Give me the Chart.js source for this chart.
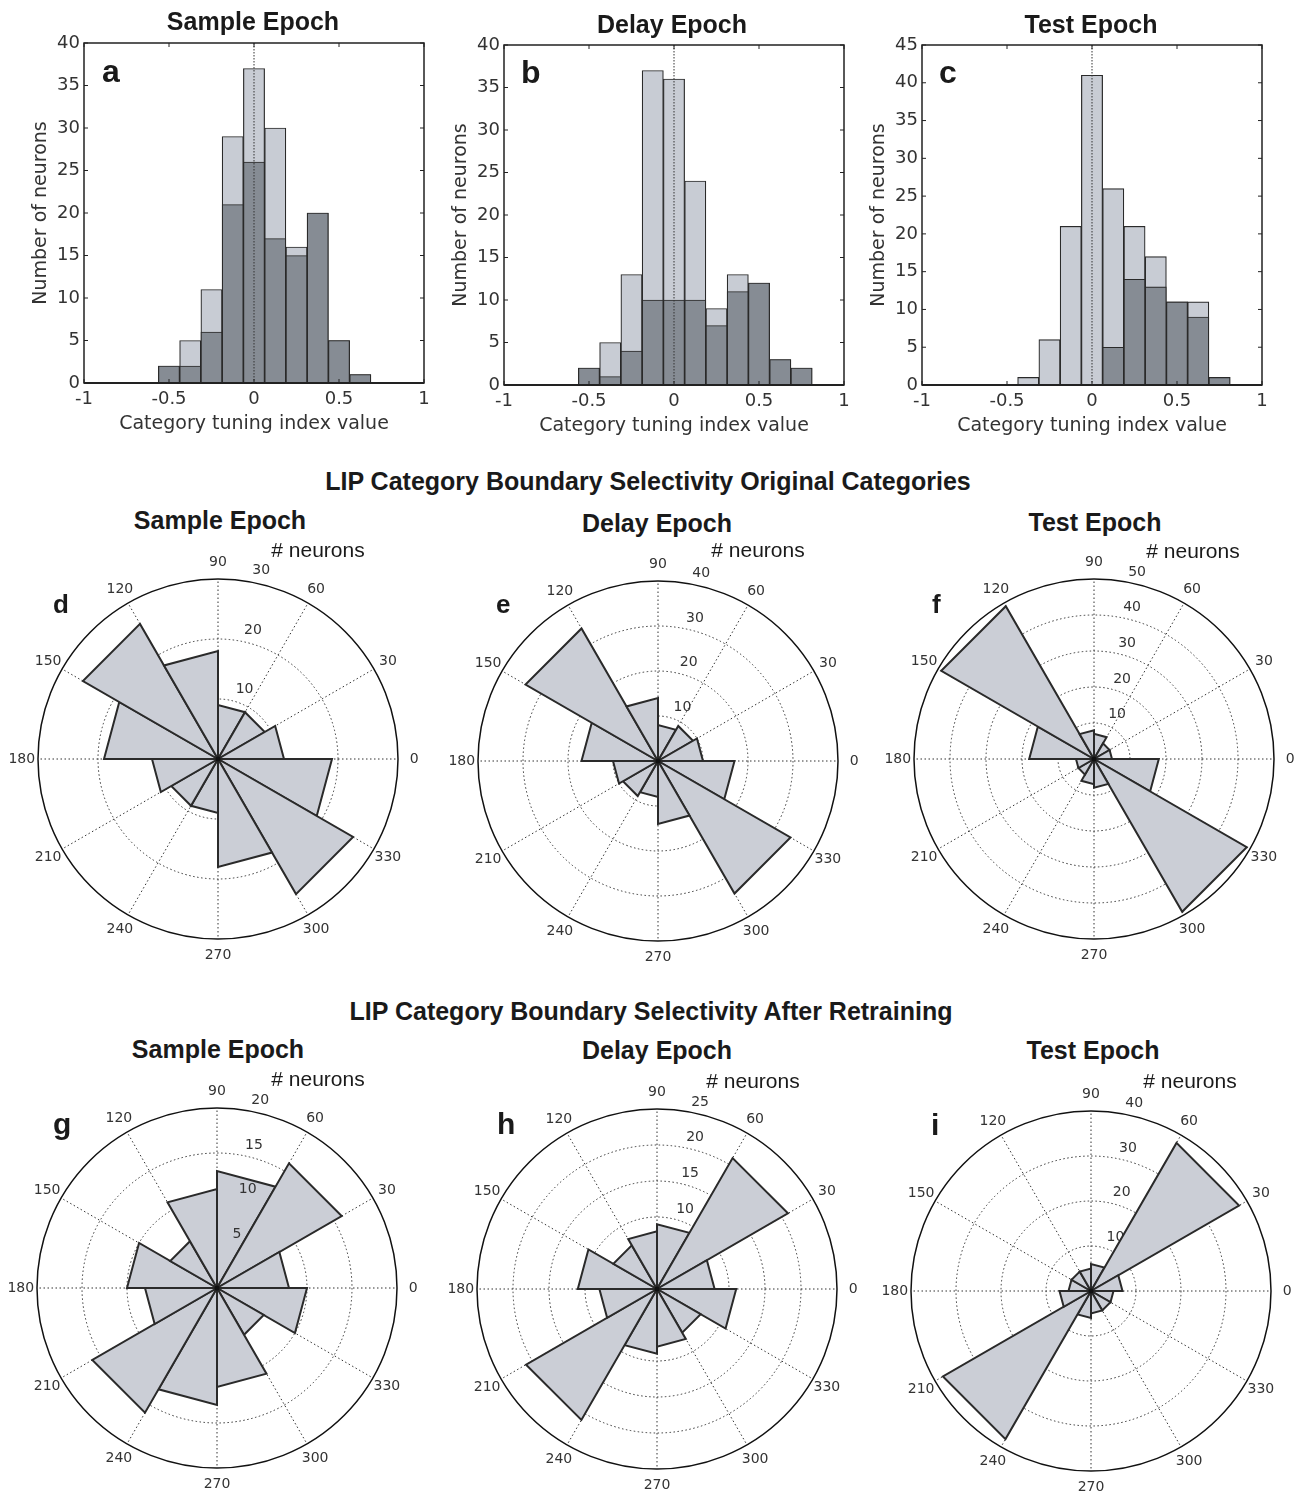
<!DOCTYPE html>
<html>
<head>
<meta charset="utf-8">
<script src="https://cdn.jsdelivr.net/npm/chart.js@4.4.1/dist/chart.umd.min.js"></script>
<style>
  body { margin: 0; background: #fff; }
  #page { position: relative; width: 1297px; height: 1497px; overflow: hidden; font-family: "Liberation Sans", Arial, Helvetica, sans-serif; color: #1a1a1a; }
  canvas { position: absolute; }
  .t { position: absolute; white-space: nowrap; line-height: 1; transform: translate(-50%, -50%); }
  .title { font-weight: bold; font-size: 25px; }
  .unit { font-size: 21px; }
  .letter { position: absolute; line-height: 1; font-weight: bold; }
</style>
</head>
<body>
<div id="page">
  <canvas id="histA" width="420" height="440" style="left:20px;top:0px"></canvas>
  <canvas id="histB" width="420" height="440" style="left:440px;top:2px"></canvas>
  <canvas id="histC" width="420" height="440" style="left:858px;top:2px"></canvas>

  <canvas id="roseD" width="420" height="420" style="left:8px;top:549px"></canvas>
  <canvas id="roseE" width="420" height="420" style="left:448px;top:551px"></canvas>
  <canvas id="roseF" width="420" height="420" style="left:884px;top:549px"></canvas>
  <canvas id="roseG" width="420" height="420" style="left:7px;top:1078px"></canvas>
  <canvas id="roseH" width="420" height="420" style="left:447px;top:1079px"></canvas>
  <canvas id="roseI" width="420" height="420" style="left:881px;top:1081px"></canvas>

  <div class="t title" style="left:253px;top:21px">Sample Epoch</div>
  <div class="t title" style="left:672px;top:24px">Delay Epoch</div>
  <div class="t title" style="left:1091px;top:24px">Test Epoch</div>

  <div class="t title" style="left:648px;top:481px">LIP Category Boundary Selectivity Original Categories</div>
  <div class="t title" style="left:220px;top:520px">Sample Epoch</div>
  <div class="t title" style="left:657px;top:523px">Delay Epoch</div>
  <div class="t title" style="left:1095px;top:522px">Test Epoch</div>
  <div class="t unit" style="left:318px;top:549px"># neurons</div>
  <div class="t unit" style="left:758px;top:549px"># neurons</div>
  <div class="t unit" style="left:1193px;top:550px"># neurons</div>

  <div class="t title" style="left:651px;top:1011px">LIP Category Boundary Selectivity After Retraining</div>
  <div class="t title" style="left:218px;top:1049px">Sample Epoch</div>
  <div class="t title" style="left:657px;top:1050px">Delay Epoch</div>
  <div class="t title" style="left:1093px;top:1050px">Test Epoch</div>
  <div class="t unit" style="left:318px;top:1078px"># neurons</div>
  <div class="t unit" style="left:753px;top:1080px"># neurons</div>
  <div class="t unit" style="left:1190px;top:1080px"># neurons</div>
</div>

<script>
// histogram bin centres (category tuning index)
const histBins = [-0.5, -0.375, -0.25, -0.125, 0, 0.125, 0.25, 0.375, 0.5, 0.625, 0.75];
// light bars = all neurons, dark bars = significant subset
const sampleAll = [2, 5, 11, 29, 37, 30, 16, 20, 5, 1, 0];
const sampleSel = [2, 2, 6, 21, 26, 17, 15, 20, 5, 1, 0];
const delayAll  = [2, 5, 13, 37, 36, 24, 9, 13, 12, 3, 2];
const delaySel  = [2, 1, 4, 10, 10, 10, 7, 11, 12, 3, 2];
const testAll   = [0, 1, 6, 21, 41, 26, 21, 17, 11, 11, 1];
const testSel   = [0, 0, 0, 0, 0, 5, 14, 13, 11, 9, 1];

// rose bins, 30 deg wide, counter-clockwise from 0
const roseBins = ['0-30', '30-60', '60-90', '90-120', '120-150', '150-180',
                  '180-210', '210-240', '240-270', '270-300', '300-330', '330-360'];
const angleTicks = [0, 30, 60, 90, 120, 150, 180, 210, 240, 270, 300, 330];
const origSample = [11, 9, 9, 18, 26, 19, 11, 9, 9, 18, 26, 19];
const origDelay  = [10, 9, 8, 14, 34, 17, 10, 9, 8, 14, 34, 17];
const origTest   = [5, 5, 7, 8, 49, 18, 5, 5, 7, 8, 49, 18];
const retrSample = [8, 16, 13, 11, 6, 10, 8, 16, 13, 11, 6, 10];
const retrDelay  = [8, 21, 9, 8, 7, 11, 8, 21, 9, 8, 7, 11];
const retrTest   = [7, 38, 6, 5, 5, 5, 7, 38, 6, 5, 5, 5];

const LIGHT = '#c8ccd4';
const DARK = '#868c94';
const EDGE = '#2a2a2a';
const NUMFONT = '"DejaVu Sans", sans-serif';

// box, inward ticks and dotted zero line, matlab style
const histFrame = {
  id: 'histFrame',
  afterDatasetsDraw(chart) {
    const {ctx, chartArea: a, scales: {x, y}} = chart;
    ctx.save();
    const x0 = x.getPixelForValue(0);
    ctx.strokeStyle = '#333';
    ctx.lineWidth = 1;
    ctx.setLineDash([1.5, 1.5]);
    ctx.beginPath();
    ctx.moveTo(x0, a.top);
    ctx.lineTo(x0, a.bottom);
    ctx.stroke();
    ctx.setLineDash([]);

    ctx.strokeStyle = '#222';
    ctx.lineWidth = 1.5;
    ctx.strokeRect(a.left, a.top, a.right - a.left, a.bottom - a.top);
    ctx.lineWidth = 2;
    ctx.beginPath();
    ctx.moveTo(a.left, a.bottom);
    ctx.lineTo(a.right, a.bottom);
    ctx.stroke();

    const t = 4;
    ctx.lineWidth = 1;
    ctx.beginPath();
    x.ticks.forEach(tk => {
      const p = x.getPixelForValue(tk.value);
      ctx.moveTo(p, a.bottom); ctx.lineTo(p, a.bottom - t);
      ctx.moveTo(p, a.top); ctx.lineTo(p, a.top + t);
    });
    y.ticks.forEach(tk => {
      const p = y.getPixelForValue(tk.value);
      ctx.moveTo(a.left, p); ctx.lineTo(a.left + t, p);
      ctx.moveTo(a.right, p); ctx.lineTo(a.right - t, p);
    });
    ctx.stroke();
    ctx.restore();
  }
};

function makeHist(id, all, sel, yMax) {
  const toPts = arr => histBins.map((b, i) => ({x: b, y: arr[i]})).filter(p => p.y > 0);
  new Chart(document.getElementById(id), {
    type: 'bar',
    data: {
      datasets: [
        { data: toPts(sel), backgroundColor: DARK, borderColor: EDGE, borderWidth: 1.2 },
        { data: toPts(all), backgroundColor: LIGHT, borderColor: EDGE, borderWidth: 1.2 }
      ]
    },
    options: {
      responsive: false,
      animation: false,
      grouped: false,
      barPercentage: 1,
      categoryPercentage: 1,
      layout: { padding: { left: 0, top: 43, right: 16, bottom: 0 } },
      plugins: { legend: { display: false }, tooltip: { enabled: false } },
      scales: {
        x: {
          type: 'linear', min: -1, max: 1, offset: false,
          grid: { display: false, drawTicks: false, offset: false },
          border: { display: false },
          ticks: {
            stepSize: 0.5, autoSkip: false, maxRotation: 0, padding: 6, color: '#333',
            font: { family: NUMFONT, size: 18 },
            callback: v => String(v)
          },
          title: { display: true, text: 'Category tuning index value', color: '#333', padding: { bottom: 5 }, font: { family: NUMFONT, size: 19 } },
          afterFit(s) { s.height = 57; }
        },
        y: {
          min: 0, max: yMax,
          grid: { display: false, drawTicks: false },
          border: { display: false },
          ticks: { stepSize: 5, padding: 4, color: '#333', font: { family: NUMFONT, size: 18 } },
          title: { display: true, text: 'Number of neurons', color: '#333', padding: { top: 10 }, font: { family: NUMFONT, size: 19 } },
          afterFit(s) { s.width = 64; }
        }
      }
    },
    plugins: [histFrame]
  });
}

function drawRadial(chart, opts) {
  const r = chart.scales.r;
  const ctx = chart.ctx;
  const a = 82 * Math.PI / 180;
  ctx.save();
  ctx.fillStyle = '#333';
  ctx.font = '14px ' + NUMFONT;
  ctx.textAlign = 'left';
  ctx.textBaseline = 'bottom';
  r.ticks.forEach(tk => {
    if (tk.value <= 0) return;
    const d = r.getDistanceFromCenterForValue(tk.value + opts.step / 20);
    ctx.fillText('  ' + tk.value, r.xCenter + d * Math.cos(a), r.yCenter - d * Math.sin(a));
  });
  ctx.restore();
}

const roseLabels = {
  id: 'roseLabels',
  beforeDatasetsDraw(chart, args, opts) {
    if (!opts.labelsOnTop) drawRadial(chart, opts);
  },
  afterDatasetsDraw(chart, args, opts) {
    if (opts.labelsOnTop) drawRadial(chart, opts);
    const r = chart.scales.r;
    const ctx = chart.ctx;
    ctx.save();
    ctx.strokeStyle = '#111';
    ctx.lineWidth = 1.5;
    ctx.beginPath();
    ctx.arc(r.xCenter, r.yCenter, r.drawingArea, 0, Math.PI * 2);
    ctx.stroke();
    ctx.fillStyle = '#111';
    ctx.beginPath();
    ctx.arc(r.xCenter, r.yCenter, 2.5, 0, Math.PI * 2);
    ctx.fill();
    ctx.fillStyle = '#333';
    ctx.font = '14px ' + NUMFONT;
    ctx.textAlign = 'center';
    ctx.textBaseline = 'middle';
    const d = r.drawingArea * 1.09;
    angleTicks.forEach(deg => {
      const rad = deg * Math.PI / 180;
      ctx.fillText(String(deg), r.xCenter + d * Math.cos(rad), r.yCenter - d * Math.sin(rad));
    });
    ctx.restore();
  }
};

function makeRose(id, counts, rMax, step, labelsOnTop) {
  // chart.js goes clockwise from startAngle, so feed the bins in reverse
  new Chart(document.getElementById(id), {
    type: 'polarArea',
    data: {
      labels: roseBins.slice().reverse(),
      datasets: [{
        data: counts.slice().reverse(),
        backgroundColor: '#cbced6', borderColor: EDGE, borderWidth: 2,
        circular: false, borderJoinStyle: 'miter'
      }]
    },
    options: {
      responsive: false,
      animation: false,
      layout: { padding: 30 },
      plugins: {
        legend: { display: false },
        tooltip: { enabled: false },
        roseLabels: { step: step, labelsOnTop: labelsOnTop }
      },
      scales: {
        r: {
          min: 0, max: rMax, startAngle: 90,
          ticks: { display: false, stepSize: step },
          grid: {
            circular: true, lineWidth: 1, borderDash: [1.5, 2.5],
            color: c => (c.tick && c.tick.value >= rMax) ? 'rgba(0,0,0,0)' : '#333'
          },
          border: { dash: [1.5, 2.5] },
          angleLines: { display: true, color: '#333', lineWidth: 1, borderDash: [1.5, 2.5] },
          pointLabels: { display: false }
        }
      }
    },
    plugins: [roseLabels]
  });
}

makeHist('histA', sampleAll, sampleSel, 40);
makeHist('histB', delayAll, delaySel, 40);
makeHist('histC', testAll, testSel, 45);

makeRose('roseD', origSample, 30, 10, false);
makeRose('roseE', origDelay, 40, 10, false);
makeRose('roseF', origTest, 50, 10, false);
makeRose('roseG', retrSample, 20, 5, true);
makeRose('roseH', retrDelay, 25, 5, false);
makeRose('roseI', retrTest, 40, 10, false);

// panel letters, placed by baseline
const letters = [
  ['a', 102, 82, 32], ['b', 521, 83, 32], ['c', 939, 83, 32],
  ['d', 53, 613, 26], ['e', 496, 613, 26], ['f', 932, 613, 26],
  ['g', 53, 1134, 30], ['h', 497, 1134, 30], ['i', 931, 1135, 30]
];
const page = document.getElementById('page');
letters.forEach(([txt, x, base, size]) => {
  const el = document.createElement('div');
  el.className = 'letter';
  el.textContent = txt;
  el.style.left = x + 'px';
  el.style.top = (base - 0.8465 * size) + 'px';
  el.style.fontSize = size + 'px';
  page.appendChild(el);
});
</script>
</body>
</html>
